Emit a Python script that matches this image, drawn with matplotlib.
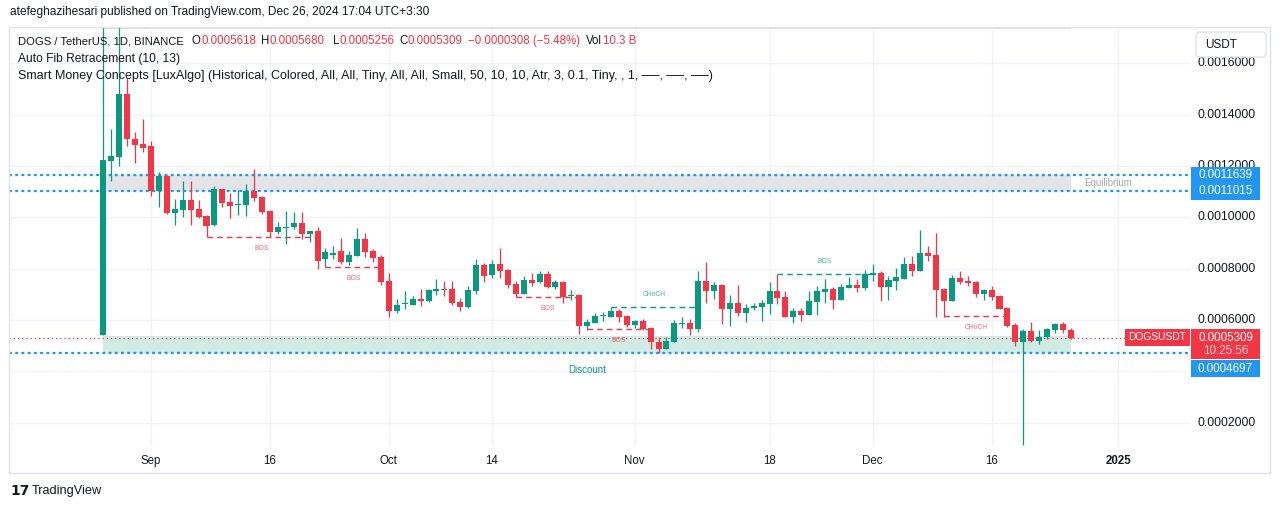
import matplotlib
matplotlib.use("Agg")
import matplotlib.pyplot as plt
import matplotlib.dates as mdates
from matplotlib.patches import Rectangle, FancyBboxPatch
import pandas as pd

# ---------------- data ----------------
start_date = "2024-08-26"
opens = [0.000541, 0.001221, 0.001237, 0.001481, 0.001305, 0.001286, 0.001278, 0.001103, 0.001161, 0.001018,
         0.001029, 0.001068, 0.001033, 0.001005, 0.000970, 0.001110, 0.001060, 0.001047, 0.001050, 0.001103,
         0.001080, 0.001025, 0.000944, 0.000960, 0.000961, 0.000978, 0.000937, 0.000947, 0.000837, 0.000855,
         0.000869, 0.000827, 0.000851, 0.000916, 0.000869, 0.000846, 0.000752, 0.000636, 0.000661, 0.000660,
         0.000682, 0.000675, 0.000714, 0.000722, 0.000721, 0.000669, 0.000651, 0.000714, 0.000813, 0.000775,
         0.000818, 0.000795, 0.000740, 0.000701, 0.000756, 0.000747, 0.000778, 0.000729, 0.000748, 0.000693,
         0.000698, 0.000577, 0.000589, 0.000615, 0.000613, 0.000635, 0.000616, 0.000581, 0.000596, 0.000569,
         0.000514, 0.000488, 0.000515, 0.000586, 0.000587, 0.000565, 0.000752, 0.000713, 0.000736, 0.000643,
         0.000666, 0.000627, 0.000645, 0.000651, 0.000664, 0.000713, 0.000690, 0.000613, 0.000635, 0.000621,
         0.000671, 0.000710, 0.000721, 0.000678, 0.000726, 0.000736, 0.000724, 0.000776, 0.000784, 0.000730,
         0.000753, 0.000760, 0.000818, 0.000791, 0.000862, 0.000853, 0.000721, 0.000674, 0.000764, 0.000752,
         0.000748, 0.000701, 0.000717, 0.000694, 0.000648, 0.000581, 0.000515, 0.000557, 0.000519, 0.000532,
         0.000561, 0.000584, 0.0005618]
highs = [0.0017957, 0.001345, 0.001780, 0.001542, 0.001333, 0.001384, 0.001298, 0.001178, 0.001165, 0.001072,
         0.001142, 0.001142, 0.001068, 0.001010, 0.001124, 0.001112, 0.001094, 0.001107, 0.001130, 0.001189,
         0.001082, 0.001027, 0.000981, 0.001025, 0.001021, 0.001021, 0.000948, 0.000964, 0.000880, 0.000889,
         0.000918, 0.000868, 0.000958, 0.000939, 0.000875, 0.000853, 0.000782, 0.000681, 0.000713, 0.000694,
         0.000721, 0.000719, 0.000760, 0.000752, 0.000752, 0.000686, 0.000733, 0.000838, 0.000821, 0.000834,
         0.000881, 0.000797, 0.000752, 0.000773, 0.000782, 0.000791, 0.000790, 0.000756, 0.000752, 0.000717,
         0.000702, 0.000604, 0.000626, 0.000631, 0.000650, 0.000642, 0.000620, 0.000600, 0.000602, 0.000571,
         0.000534, 0.000533, 0.000600, 0.000612, 0.000604, 0.000791, 0.000826, 0.000749, 0.000740, 0.000697,
         0.000736, 0.000662, 0.000665, 0.000678, 0.000748, 0.000779, 0.000713, 0.000647, 0.000647, 0.000713,
         0.000733, 0.000760, 0.000729, 0.000740, 0.000769, 0.000759, 0.000795, 0.000818, 0.000790, 0.000772,
         0.000801, 0.000847, 0.000850, 0.000951, 0.000889, 0.000940, 0.000725, 0.000775, 0.000791, 0.000772,
         0.000752, 0.000719, 0.000733, 0.000696, 0.000650, 0.000587, 0.000564, 0.000593, 0.000561, 0.000568,
         0.000589, 0.000592, 0.000568]
lows = [0.000540, 0.001143, 0.001200, 0.001278, 0.001213, 0.001256, 0.001083, 0.001042, 0.001013, 0.000970,
        0.001003, 0.000970, 0.000996, 0.000922, 0.000966, 0.001042, 0.000999, 0.001009, 0.001007, 0.001064,
        0.001013, 0.000925, 0.000934, 0.000895, 0.000956, 0.000915, 0.000904, 0.000800, 0.000808, 0.000839,
        0.000818, 0.000813, 0.000850, 0.000847, 0.000827, 0.000736, 0.000613, 0.000628, 0.000642, 0.000657,
        0.000656, 0.000671, 0.000699, 0.000694, 0.000657, 0.000635, 0.000648, 0.000701, 0.000748, 0.000765,
        0.000765, 0.000726, 0.000688, 0.000700, 0.000734, 0.000744, 0.000726, 0.000722, 0.000668, 0.000678,
        0.000546, 0.000561, 0.000588, 0.000596, 0.000612, 0.000593, 0.000571, 0.000568, 0.000561, 0.000488,
        0.0004697, 0.000487, 0.000514, 0.000568, 0.000542, 0.000554, 0.000668, 0.000682, 0.000584, 0.000577,
        0.000616, 0.000592, 0.000640, 0.000597, 0.000624, 0.000664, 0.000610, 0.000589, 0.000597, 0.000620,
        0.000620, 0.000668, 0.000642, 0.000677, 0.000725, 0.000710, 0.000717, 0.000753, 0.000675, 0.000678,
        0.000717, 0.000758, 0.000772, 0.000790, 0.000831, 0.000613, 0.000613, 0.000673, 0.000740, 0.000734,
        0.000691, 0.000678, 0.000678, 0.000641, 0.000572, 0.000499, 0.000112, 0.000515, 0.000506, 0.000525,
        0.000550, 0.000550, 0.0005256]
closes = [0.001224, 0.001239, 0.001481, 0.001305, 0.001282, 0.001272, 0.001102, 0.001161, 0.001018, 0.001032,
          0.001068, 0.001029, 0.001002, 0.000966, 0.001110, 0.001057, 0.001046, 0.001053, 0.001104, 0.001077,
          0.001020, 0.000944, 0.000961, 0.000962, 0.000978, 0.000937, 0.000947, 0.000831, 0.000866, 0.000862,
          0.000827, 0.000853, 0.000916, 0.000865, 0.000843, 0.000749, 0.000636, 0.000658, 0.000663, 0.000682,
          0.000675, 0.000717, 0.000721, 0.000718, 0.000665, 0.000651, 0.000717, 0.000813, 0.000773, 0.000817,
          0.000792, 0.000736, 0.000701, 0.000756, 0.000745, 0.000778, 0.000729, 0.000748, 0.000690, 0.000695,
          0.000578, 0.000592, 0.000616, 0.000617, 0.000635, 0.000613, 0.000581, 0.000596, 0.000566, 0.000515,
          0.000488, 0.000518, 0.000587, 0.000588, 0.000565, 0.000752, 0.000713, 0.000736, 0.000643, 0.000666,
          0.000627, 0.000647, 0.000655, 0.000666, 0.000713, 0.000687, 0.000612, 0.000635, 0.000621, 0.000674,
          0.000713, 0.000721, 0.000678, 0.000730, 0.000736, 0.000726, 0.000779, 0.000784, 0.000730, 0.000756,
          0.000766, 0.000818, 0.000791, 0.000862, 0.000850, 0.000717, 0.000674, 0.000764, 0.000748, 0.000745,
          0.000701, 0.000717, 0.000691, 0.000643, 0.000577, 0.000515, 0.000557, 0.000519, 0.000532, 0.000565,
          0.000584, 0.0005617, 0.0005309]
dates = pd.date_range(start_date, periods=len(opens), freq="D")

price_ticks = [0.0002, 0.0004, 0.0006, 0.0008, 0.0010, 0.0012, 0.0014, 0.0016]
price_tick_labels = ["0.0002000", "0.0004000", "0.0006000", "0.0008000",
                     "0.0010000", "0.0012000", "0.0014000", "0.0016000"]
time_ticks = ["2024-09-01", "2024-09-16", "2024-10-01", "2024-10-14", "2024-11-01",
              "2024-11-18", "2024-12-01", "2024-12-16", "2025-01-01"]
time_tick_labels = ["Sep", "16", "Oct", "14", "Nov", "18", "Dec", "16", "2025"]

# market structure (Smart Money Concepts)
struct_levels = [0.000922, 0.000808, 0.000688, 0.000564, 0.000650, 0.000779, 0.000617]
struct_start = [13, 28, 52, 61, 64, 85, 106]
struct_end = [27, 35, 60, 69, 75, 97, 114]
struct_dir = ["bear", "bear", "bear", "bear", "bull", "bull", "bear"]
struct_labels = ["BOS", "BOS", "BOS", "BOS", "CHoCH", "BOS", "CHoCH"]

# zones
zone_names = ["Premium", "Equilibrium", "Discount"]
zone_low = [0.001733, 0.0011015, 0.0004697]
zone_high = [0.0017957, 0.0011639, 0.000536]
level_lines = [0.0011639, 0.0011015, 0.0004697]
volume_text = "10.3 B"

# ---------------- styling ----------------
W, H = 1281, 509
GREEN = "#089981"
RED = "#f23645"
BLUE = "#2196f3"
DARK = "#131722"
GRID = "#f0f3fa"
FONT = ["Liberation Sans", "DejaVu Sans"]
plt.rcParams["font.family"] = FONT

fig = plt.figure(figsize=(W / 100, H / 100), dpi=100)
fig.patch.set_facecolor("white")
PL, PR, PT, PB = 9, 1190, 27, 446
ax = fig.add_axes([PL / W, 1 - PB / H, (PR - PL) / W, (PB - PT) / H])
for s in ax.spines.values():
    s.set_visible(False)
ax.set_xticks([])
ax.set_yticks([])

# price scale: 0.0002 per 51.3 px, 0.0006 at y=320
ppx = 0.0002 / 51.3
ax.set_ylim(0.0006 + (320 - PB) * ppx, 0.0006 + (320 - PT) * ppx)
sep1 = mdates.date2num(pd.Timestamp("2024-09-01"))
dpx = 7.93
X0 = 151
ax.set_xlim(sep1 - (X0 - PL) / dpx, sep1 + (PR - X0) / dpx)

xs = mdates.date2num(dates)
tnums = [mdates.date2num(pd.Timestamp(t)) for t in time_ticks]

# grid
for p in price_ticks:
    ax.axhline(p, color=GRID, lw=1, zorder=0)
for t in tnums:
    ax.axvline(t, color=GRID, lw=1, zorder=0)

# zones
zone_colors = {"Premium": "#f9d3d6", "Equilibrium": "#e3e4e8", "Discount": "#cfebe4"}
for name, lo, hi in zip(zone_names, zone_low, zone_high):
    ax.add_patch(Rectangle((xs[0], lo), xs[-1] - xs[0], hi - lo,
                           facecolor=zone_colors[name], edgecolor="none", zorder=1))
mid_x = (xs[0] + xs[-1]) / 2
ax.text(mid_x, zone_low[2] - 16.5 * ppx, "Discount", color=GREEN, fontsize=7, ha="center",
        va="center", zorder=5)
ax.text(xs[-1] + 13 / dpx, (zone_low[1] + zone_high[1]) / 2, "Equilibrium", color="#a3a6af",
        fontsize=7, ha="left", va="center", zorder=5)

# blue level lines
for lv in level_lines:
    ax.axhline(lv, color=BLUE, lw=1.6, ls=(0, (1.3, 1.5)), zorder=2)
# last price line
ax.axhline(closes[-1], color=RED, lw=0.8, ls=(0, (1.2, 2.6)), zorder=2)

# structure lines
for lv, a, b, d, lab in zip(struct_levels, struct_start, struct_end, struct_dir, struct_labels):
    c = RED if d == "bear" else GREEN
    ax.plot([xs[a], xs[b]], [lv, lv], color=c, lw=1.0, ls=(0, (4, 3)), zorder=2)
    off = -11.5 if d == "bear" else 12.5
    ax.text((xs[a] + xs[b]) / 2, lv + off * ppx, lab, color=c, alpha=0.75,
            fontsize=4.9, ha="center", va="center", zorder=5)

# candles
cols = [GREEN if c >= o else RED for o, c in zip(opens, closes)]
ax.vlines(xs, lows, highs, colors=cols, lw=0.9, zorder=3)
bottoms = [min(o, c) for o, c in zip(opens, closes)]
heights = [max(abs(c - o), 0.9 * ppx) for o, c in zip(opens, closes)]
ax.bar(xs, heights, bottom=bottoms, width=0.76, color=cols, linewidth=0, zorder=4)

# ---------------- overlay in pixel coordinates ----------------
ov = fig.add_axes([0, 0, 1, 1], zorder=10)
ov.set_xlim(0, W)
ov.set_ylim(H, 0)
ov.axis("off")
ov.patch.set_alpha(0)
renderer = fig.canvas.get_renderer()


def ypx(v):
    return H - ax.transData.transform((xs[0], v))[1]


def xpx(t):
    return ax.transData.transform((t, 0.0006))[0]


def fit(t, width):
    w = t.get_window_extent(renderer).width
    t.set_fontsize(t.get_fontsize() * width / w)


# frame
ov.add_patch(Rectangle((PL, PT), 1270 - PL, 473 - PT, fill=False, ec="#e0e3eb", lw=1))

# top credit line
t = ov.text(10, 12, "atefeghazihesari published on TradingView.com, Dec 26, 2024 17:04 UTC+3:30",
            color=DARK, fontsize=8.1, va="center", ha="left")
fit(t, 420)

# header legend
chg = closes[-1] - closes[-2]
pct = chg / closes[-2] * 100
f7 = lambda v: f"{v:.7f}".replace("-", "\u2212")
segs = [("DOGS / TetherUS, 1D, BINANCE", 18, DARK), ("O", 192, DARK), (f7(opens[-1]), 201, RED),
        ("H", 261, DARK), (f7(highs[-1]), 270, RED), ("L", 333, DARK), (f7(lows[-1]), 340, RED),
        ("C", 399, DARK), (f7(closes[-1]), 408, RED),
        (f"{f7(chg)} ({pct:.2f}%)".replace("-", "\u2212"), 468, RED),
        ("Vol", 586, DARK), (volume_text, 603, RED)]
for k, (s, x, c) in enumerate(segs):
    t = ov.text(x, 41, s, color=c, fontsize=8.3, va="center", ha="left")
    if k == 0:
        fit(t, 167)
t = ov.text(18, 59, "Auto Fib Retracement (10, 13)", color=DARK, fontsize=8.1, va="center", ha="left")
fit(t, 163)
t = ov.text(18, 76, "Smart Money Concepts [LuxAlgo] (Historical, Colored, All, All, Tiny, All, All, Small, "
            "50, 10, 10, Atr, 3, 0.1, Tiny, , 1, \u2500\u2500, \u2500\u2500, \u2500\u2500)",
            color=DARK, fontsize=8.1, va="center", ha="left")
fit(t, 696)

# value boxes on the price axis
box_l, box_w = 1191, 69
yl = ypx(closes[-1])
blue_y = [ypx(lv) for lv in level_lines]
blue_y[2] = max(blue_y[2], yl + 22.5 + 8.5)
box_tops = [y - 8.5 for y in blue_y] + [yl - 8.5]
box_bots = [y + 8.5 for y in blue_y] + [yl + 21.5]

# price axis labels (clipped where value boxes cover them)
for p, lab in zip(price_ticks, price_tick_labels):
    y = ypx(p)
    covered = [(tp, bt) for tp, bt in zip(box_tops, box_bots) if tp - 4 < y < bt + 4]
    if covered and covered[0][0] < y - 2:
        continue  # fully hidden behind a value box
    tt = ov.text(1198, y, lab, color=DARK, fontsize=8.7, va="center", ha="left", zorder=1)
    if covered:
        clip = Rectangle((1190, 0), 80, covered[0][0], transform=ov.transData)
        tt.set_clip_path(clip)

# time axis labels
for tn, lab in zip(tnums, time_tick_labels):
    ov.text(xpx(tn), 461, lab, color=DARK, fontsize=8.3, va="center", ha="center",
            fontweight="bold" if lab == "2025" else "normal")

# USDT box
ov.add_patch(FancyBboxPatch((1196, 32), 70, 25, boxstyle="round,pad=0,rounding_size=4",
                            fc="white", ec="#e0e3eb", lw=1, zorder=2))
ov.text(1205, 44.5, "USDT", color=DARK, fontsize=8.5, va="center", ha="left", zorder=3)

# blue value labels
for lv, y in zip(level_lines, blue_y):
    ov.add_patch(Rectangle((box_l, y - 8.5), box_w, 17, fc=BLUE, ec="none", zorder=2))
    ov.text(box_l + box_w / 2, y, f"{lv:.7f}", color="white", fontsize=8.4, va="center",
            ha="center", zorder=3)

# last price labels
ov.add_patch(Rectangle((box_l, yl - 8.5), box_w, 30, fc=RED, ec="none", zorder=2))
ov.text(box_l + box_w / 2, yl, f"{closes[-1]:.7f}", color="white", fontsize=8.4, va="center",
        ha="center", zorder=3)
ov.text(box_l + box_w / 2, yl + 13.5, "10:25:56", color="#fcd2d6", fontsize=8.4, va="center",
        ha="center", zorder=3)
ov.add_patch(Rectangle((1125, yl - 8.5), 65, 16.5, fc=RED, ec="none", zorder=2))
ov.text(1157.5, yl - 0.3, "DOGSUSDT", color="white", fontsize=7.4, va="center", ha="center", zorder=3)

# TradingView logo
ov.text(10, 491, "17", color=DARK, fontsize=10, fontweight="bold", va="center", ha="left",
        family=["DejaVu Sans"])
ov.text(32, 491, "TradingView", color=DARK, fontsize=9.2, va="center", ha="left")

fig.savefig("out.png", dpi=100)
